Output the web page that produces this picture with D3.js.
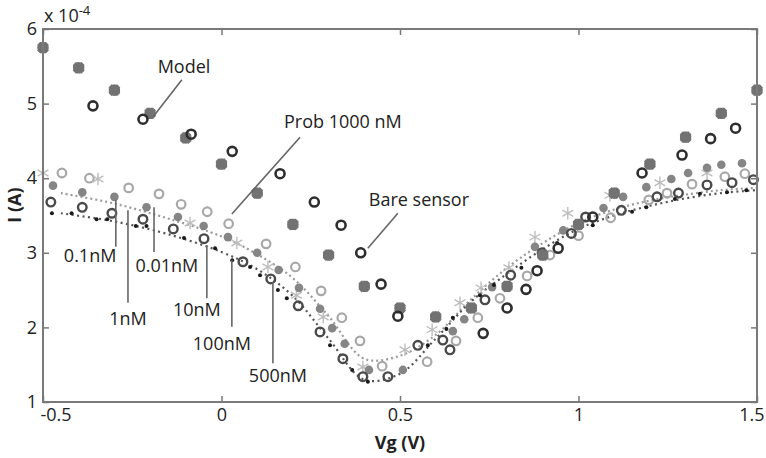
<!DOCTYPE html>
<html>
<head>
<meta charset="utf-8">
<script src="https://cdn.jsdelivr.net/npm/d3@7"></script>
<style>
  body { margin: 0; background: #fff; }
  text { font-family: "Open Sans", sans-serif; fill: #222; }
</style>
</head>
<body>
<script>
// values: [Vg (V), I (x 1e-4 A)]
var modelPts = [[-0.5,5.75],[-0.4,5.48],[-0.3,5.18],[-0.2,4.87],[-0.1,4.54],[0,4.19],[0.1,3.80],[0.2,3.38],[0.3,2.97],[0.4,2.55],[0.5,2.26],
  [0.6,2.14],[0.7,2.26],[0.8,2.55],[0.9,2.97],[1.0,3.38],[1.1,3.80],[1.2,4.19],[1.3,4.55],[1.4,4.87],[1.5,5.18]];
var barePts = [[-0.36,4.97],[-0.22,4.79],[-0.085,4.59],[0.03,4.36],[0.164,4.06],[0.26,3.68],[0.335,3.37],[0.39,3.0],[0.447,2.58],[0.494,2.15],
  [0.733,1.92],[0.80,2.26],[0.853,2.51],[0.884,2.76],[0.943,3.06],[1.04,3.48],[1.178,4.07],[1.29,4.31],[1.37,4.53],[1.44,4.67]];
var lightRingPts = [[-0.447,4.07],[-0.37,4.0],[-0.26,3.87],[-0.175,3.79],[-0.113,3.65],[-0.04,3.55],[0.02,3.39],[0.125,3.12],[0.207,2.81],[0.279,2.49],
  [0.337,2.13],[0.388,1.82],[0.45,1.48],[0.576,1.54],[0.657,1.82],[0.718,2.13],[0.78,2.39],[0.856,2.69],[0.92,2.97],[1.0,3.23],[1.09,3.47],
  [1.197,3.71],[1.248,3.80],[1.318,3.92],[1.41,4.02],[1.466,4.06]];
var grayDotPts = [[-0.472,3.90],[-0.39,3.81],[-0.30,3.75],[-0.21,3.61],[-0.122,3.48],[-0.05,3.36],[0.018,3.21],[0.10,3.0],[0.16,2.77],[0.217,2.53],
  [0.276,2.25],[0.31,1.99],[0.345,1.78],[0.413,1.43],[0.508,1.43],[0.648,1.95],[0.68,2.11],[0.758,2.54],[0.878,3.08],[0.957,3.30],[1.07,3.60],
  [1.125,3.75],[1.19,3.88],[1.26,3.99],[1.307,4.07],[1.36,4.14],[1.40,4.18],[1.458,4.20]];
var asteriskPts = [[-0.5,4.07],[-0.346,3.99],[-0.088,3.40],[0.043,3.13],[0.13,2.81],[0.21,2.43],[0.285,2.14],[0.396,1.47],[0.514,1.70],[0.59,1.97],
  [0.668,2.33],[0.727,2.53],[0.805,2.80],[0.878,3.21],[0.97,3.53],[1.088,3.77],[1.228,3.94],[1.36,4.07]];
var darkRingPts = [[-0.478,3.68],[-0.39,3.61],[-0.307,3.53],[-0.22,3.45],[-0.135,3.32],[-0.049,3.19],[0.06,2.88],[0.138,2.65],[0.215,2.29],[0.276,1.94],
  [0.34,1.58],[0.396,1.34],[0.466,1.34],[0.55,1.76],[0.62,1.83],[0.64,1.70],[0.738,2.37],[0.81,2.70],[0.898,3.0],[0.98,3.26],[1.02,3.48],
  [1.12,3.57],[1.22,3.75],[1.28,3.80],[1.36,3.91],[1.43,3.94],[1.49,3.98]];
var blackDotPts = [[-0.475,3.53],[-0.42,3.53],[-0.35,3.45],[-0.32,3.45],[-0.24,3.36],[-0.21,3.36],[-0.105,3.2],[-0.018,3.06],[0.03,2.90],[0.08,2.81],
  [0.108,2.70],[0.158,2.50],[0.183,2.39],[0.304,1.76],[0.366,1.43],[0.41,1.27],[0.578,1.76],[0.63,1.98],[0.648,2.13],[0.724,2.43],[0.763,2.57],
  [0.84,2.80],[0.94,3.13],[1.04,3.37],[1.15,3.55],[1.19,3.61],[1.27,3.72],[1.34,3.79],[1.416,3.81],[1.47,3.84]];
// dotted fit curves
var fitVg = [-0.45,-0.3,-0.15,0,0.1,0.2,0.3,0.4,0.5,0.6,0.7,0.8,0.9,1.0,1.1,1.2,1.3,1.4,1.5];
var fitUpper = [3.80,3.66,3.46,3.22,2.98,2.66,2.15,1.58,1.62,1.90,2.38,2.80,3.13,3.40,3.58,3.70,3.78,3.84,3.87];
var fitLower = [3.53,3.42,3.25,3.01,2.78,2.42,1.85,1.30,1.38,1.85,2.35,2.72,3.05,3.32,3.50,3.63,3.73,3.80,3.84];

var xTicks = [-0.5, 0, 0.5, 1, 1.5];
var yTicks = [1, 2, 3, 4, 5, 6];

// callouts: label, text anchor point, line start, line end (data units)
var callouts = [
  {text: "Model",        tx: -0.105, ty: 5.41, x1: -0.111, y1: 5.32, x2: -0.192, y2: 4.82},
  {text: "Prob 1000 nM", tx: 0.340,  ty: 4.67, x1: 0.22,   y1: 4.55, x2: 0.029,  y2: 3.52},
  {text: "Bare sensor",  tx: 0.553,  ty: 3.63, x1: 0.494,  y1: 3.53, x2: 0.41,   y2: 3.06},
  {text: "0.1nM",        tx: -0.368, ty: 2.88, x1: -0.296, y1: 3.71, x2: -0.296, y2: 3.08},
  {text: "1nM",          tx: -0.262, ty: 2.03, x1: -0.262, y1: 3.57, x2: -0.262, y2: 2.33},
  {text: "0.01nM",       tx: -0.153, ty: 2.74, x1: -0.189, y1: 3.61, x2: -0.189, y2: 3.01},
  {text: "10nM",         tx: -0.069, ty: 2.15, x1: -0.041, y1: 3.10, x2: -0.041, y2: 2.39},
  {text: "100nM",        tx: 0.001,  ty: 1.70, x1: 0.029,  y1: 2.90, x2: 0.029,  y2: 2.01},
  {text: "500nM",        tx: 0.158,  ty: 1.27, x1: 0.144,  y1: 2.61, x2: 0.144,  y2: 1.52}
];

var width = 766, height = 458;
var svg = d3.select("body").append("svg")
  .attr("width", width)
  .attr("height", height);

var x = d3.scaleLinear().domain([-0.5, 1.5]).range([43, 757]);
var y = d3.scaleLinear().domain([1, 6]).range([402, 29]);

var plot = svg.append("g");

// dotted curves
var line = d3.line().curve(d3.curveCatmullRom)
  .x(function(d){ return x(d[0]); })
  .y(function(d){ return y(d[1]); });
plot.append("path")
  .attr("d", line(fitVg.map(function(v, i){ return [v, fitUpper[i]]; })))
  .attr("fill", "none").attr("stroke", "#9a9a9a").attr("stroke-width", 2.2)
  .attr("stroke-dasharray", "2,3");
plot.append("path")
  .attr("d", line(fitVg.map(function(v, i){ return [v, fitLower[i]]; })))
  .attr("fill", "none").attr("stroke", "#555").attr("stroke-width", 2.2)
  .attr("stroke-dasharray", "2,3.5");

function rings(pts, color, r, sw) {
  plot.append("g").selectAll("circle")
    .data(pts).enter().append("circle")
    .attr("cx", function(d){ return x(d[0]); })
    .attr("cy", function(d){ return y(d[1]); })
    .attr("r", r)
    .attr("fill", "none")
    .attr("stroke", color)
    .attr("stroke-width", sw);
}
function dots(pts, color, r) {
  plot.append("g").selectAll("circle")
    .data(pts).enter().append("circle")
    .attr("cx", function(d){ return x(d[0]); })
    .attr("cy", function(d){ return y(d[1]); })
    .attr("r", r)
    .attr("fill", color);
}

rings(lightRingPts, "#a8a8a8", 4.3, 2.2);
plot.append("g").selectAll("path")
  .data(asteriskPts).enter().append("path")
  .attr("transform", function(d){ return "translate(" + x(d[0]) + "," + y(d[1]) + ")"; })
  .attr("d", d3.symbol(d3.symbolAsterisk, 110))
  .attr("fill", "none").attr("stroke", "#bdbdbd").attr("stroke-width", 1.4);
dots(grayDotPts, "#858585", 4.3);
rings(darkRingPts, "#4a4a4a", 4.3, 2.4);
dots(blackDotPts, "#1a1a1a", 2);

// model: rounded blobs with small bumps
var modelG = plot.append("g").selectAll("g")
  .data(modelPts).enter().append("g")
  .attr("transform", function(d){ return "translate(" + x(d[0]) + "," + y(d[1]) + ")"; });
modelG.append("circle").attr("r", 5.3).attr("fill", "#727272");
modelG.append("path")
  .attr("d", d3.symbol(d3.symbolCross, 70))
  .attr("fill", "#727272").attr("stroke", "#727272").attr("stroke-width", 1)
  .attr("stroke-linejoin", "round")
  .attr("transform", "rotate(45)");
modelG.append("path")
  .attr("d", d3.symbol(d3.symbolCross, 70))
  .attr("fill", "#727272");
rings(barePts, "#2e2e2e", 4.5, 2.6);

// frame and axes (ticks inward on all four sides)
svg.append("rect")
  .attr("x", 43).attr("y", 29).attr("width", 714).attr("height", 373)
  .attr("fill", "none").attr("stroke", "#7a7a7a").attr("stroke-width", 2);

var bottom = svg.append("g").attr("transform", "translate(0,402)")
  .call(d3.axisBottom(x).tickValues(xTicks).tickSizeInner(-6).tickSizeOuter(0).tickPadding(6)
    .tickFormat(function(d){ return String(d); }));
var left = svg.append("g").attr("transform", "translate(43,0)")
  .call(d3.axisLeft(y).tickValues(yTicks).tickSizeInner(-6).tickSizeOuter(0).tickPadding(6)
    .tickFormat(function(d){ return String(d); }));
svg.append("g").attr("transform", "translate(0,29)")
  .call(d3.axisTop(x).tickValues(xTicks).tickSizeInner(-6).tickSizeOuter(0).tickFormat(""));
svg.append("g").attr("transform", "translate(757,0)")
  .call(d3.axisRight(y).tickValues(yTicks).tickSizeInner(-6).tickSizeOuter(0).tickFormat(""));

svg.selectAll(".domain").remove();
svg.selectAll(".tick line").attr("stroke", "#777").attr("stroke-width", 1.5);
svg.selectAll(".tick text")
  .style("font-family", "'Open Sans', sans-serif")
  .style("font-size", "18px")
  .attr("fill", "#222");
bottom.selectAll(".tick text").filter(function(d){ return d === -0.5; }).attr("text-anchor", "start").attr("x", -3);
bottom.selectAll(".tick text").filter(function(d){ return d === 1.5; }).attr("text-anchor", "end").attr("x", 7);

// exponent
var expo = svg.append("text").attr("x", 44).attr("y", 22).style("font-size", "18px");
expo.append("tspan").text("x 10");
expo.append("tspan").attr("dy", -7).style("font-size", "13px").text("-4");

// axis titles
svg.append("text")
  .attr("x", 400).attr("y", 449)
  .attr("text-anchor", "middle")
  .style("font-size", "18px").style("font-weight", "bold")
  .text("Vg (V)");
svg.append("text")
  .attr("transform", "translate(21,205) rotate(-90)")
  .attr("text-anchor", "middle")
  .style("font-size", "18px").style("font-weight", "bold")
  .text("I (A)");

// callouts
var notes = svg.append("g");
notes.selectAll("line")
  .data(callouts).enter().append("line")
  .attr("x1", function(d){ return x(d.x1); })
  .attr("y1", function(d){ return y(d.y1); })
  .attr("x2", function(d){ return x(d.x2); })
  .attr("y2", function(d){ return y(d.y2); })
  .attr("stroke", "#666").attr("stroke-width", 1.6);
notes.selectAll("text")
  .data(callouts).enter().append("text")
  .attr("x", function(d){ return x(d.tx); })
  .attr("y", function(d){ return y(d.ty); })
  .attr("text-anchor", "middle")
  .style("font-size", "18px")
  .text(function(d){ return d.text; });
</script>
</body>
</html>
